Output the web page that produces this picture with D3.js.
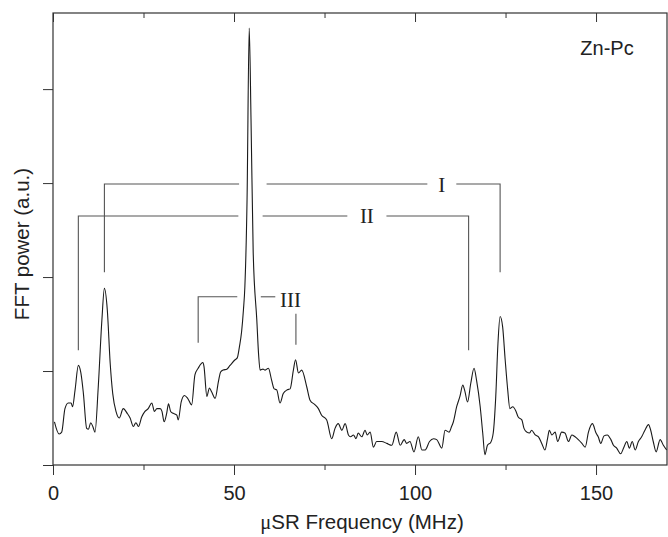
<!DOCTYPE html>
<html>
<head>
<meta charset="utf-8">
<script src="https://cdn.jsdelivr.net/npm/d3@7"></script>
<style>
  body { margin: 0; background: #fff; }
  svg text { font-family: "Liberation Sans", Arial, sans-serif; fill: #222; }
</style>
</head>
<body>
<div id="chart"></div>
<script>
// FFT spectrum (frequency in MHz, power in a.u.)
var freq = [0.4,1.7,2.4,3.3,4.2,5.0,5.4,6.1,7.0,7.7,8.4,9.3,9.8,10.4,11.0,11.6,12.5,13.5,14.2,15.0,
  15.8,16.5,17.4,18.3,19.4,20.5,21.3,22.2,22.9,23.6,24.5,25.4,26.3,27.3,28.0,28.7,29.6,30.1,30.7,31.4,
  31.9,32.5,33.2,34.2,34.6,35.4,36.3,37.2,38.3,39.2,40.1,41.4,41.7,42.5,43.2,43.8,44.8,45.7,46.3,47.0,
  48.0,48.9,50.3,50.9,51.5,52.1,52.6,53.0,53.6,54.2,54.7,55.3,56.3,56.8,57.2,58.0,58.6,59.5,60.4,61.1,
  61.8,62.7,63.6,64.7,65.5,66.4,67.0,67.8,68.7,70.1,71.0,72.4,73.3,74.2,75.6,77.0,77.9,78.8,79.8,80.7,
  81.6,82.2,83.0,83.7,84.3,85.3,86.2,86.8,87.6,88.5,89.4,90.8,92.2,93.6,94.8,95.9,97.0,97.7,98.6,99.7,
  100.9,101.9,102.8,104.0,105.1,106.0,107.4,108.3,109.4,110.1,110.6,111.5,112.4,113.2,113.8,114.5,115.4,116.3,117.0,118.0,
  118.7,119.3,120.0,120.9,121.6,122.3,122.9,123.5,124.2,124.9,125.6,126.2,127.0,127.9,128.5,129.5,130.1,130.9,131.6,132.2,
  133.2,134.1,135.0,135.9,136.6,137.1,137.8,138.7,139.4,140.5,141.4,142.4,143.3,144.2,145.1,146.1,147.0,147.9,149.0,150.0,
  150.6,151.3,152.2,153.1,154.1,154.8,155.7,156.8,157.7,158.5,159.2,160.0,160.8,161.7,162.6,163.5,164.5,165.1,165.8,166.6,
  167.7,168.6,169.5];
var power = [0.46,0.33,0.35,0.60,0.66,0.66,0.62,0.80,1.06,0.98,0.76,0.39,0.38,0.45,0.41,0.35,0.83,1.54,1.88,1.65,
  1.08,0.76,0.57,0.50,0.60,0.55,0.50,0.41,0.45,0.41,0.51,0.57,0.60,0.66,0.57,0.60,0.60,0.57,0.46,0.55,
  0.65,0.57,0.55,0.53,0.48,0.67,0.74,0.71,0.64,0.96,1.03,1.09,1.05,0.73,0.82,0.78,0.71,0.89,0.99,1.01,
  1.02,1.06,1.12,1.14,1.26,1.42,1.65,1.90,2.82,4.65,3.67,2.26,1.54,1.17,1.01,1.02,1.01,1.03,0.90,0.81,
  0.80,0.66,0.76,0.80,0.81,1.01,1.12,0.98,1.01,0.83,0.69,0.64,0.60,0.53,0.48,0.28,0.39,0.44,0.37,0.44,
  0.32,0.30,0.32,0.28,0.34,0.30,0.37,0.32,0.35,0.19,0.25,0.25,0.23,0.21,0.35,0.21,0.27,0.23,0.25,0.14,
  0.30,0.16,0.16,0.25,0.28,0.27,0.18,0.37,0.35,0.41,0.46,0.62,0.73,0.85,0.78,0.67,0.87,1.03,0.90,0.62,
  0.34,0.11,0.21,0.24,0.34,0.73,1.29,1.58,1.47,1.12,0.80,0.60,0.62,0.57,0.51,0.48,0.39,0.35,0.34,0.37,
  0.32,0.30,0.23,0.16,0.28,0.37,0.32,0.35,0.25,0.35,0.34,0.25,0.32,0.30,0.27,0.23,0.19,0.35,0.44,0.34,
  0.30,0.23,0.31,0.32,0.27,0.21,0.18,0.12,0.19,0.25,0.18,0.25,0.16,0.25,0.30,0.37,0.43,0.37,0.25,0.14,
  0.27,0.21,0.16];

var xMajorTicks = [0, 50, 100, 150];
var xMinorTicks = [25, 75, 125];
var yTicks = [0, 1, 2, 3, 4];

// peak assignment brackets: [label, left freq, right freq, bar level, left foot, right foot, label freq]
var bracketNames = ["I", "II", "III"];
var bracketLeft = [14.2, 7.0, 40.1];
var bracketRight = [123.5, 114.8, 67.1];
var bracketLevel = [2.99, 2.65, 1.79];
var bracketFoot = [2.05, 1.22, 1.30];
var bracketLabelAt = [107.4, 86.7, 65.6];

var width = 668, height = 537;
var margin = {top: 13, right: 1, bottom: 72, left: 53};

var svg = d3.select("#chart").append("svg")
    .attr("width", width).attr("height", height);

var x = d3.scaleLinear().domain([0, 169.6]).range([margin.left, width - margin.right]);
var y = d3.scaleLinear().domain([0, 4.81]).range([height - margin.bottom, margin.top]);

// frame
svg.append("rect")
    .attr("x", x(0)).attr("y", y(4.81))
    .attr("width", x(169.6) - x(0)).attr("height", y(0) - y(4.81))
    .attr("fill", "none").attr("stroke", "#333").attr("stroke-width", 1.2);

// bottom axis, major ticks with labels
var xAxis = svg.append("g").attr("transform", "translate(0," + y(0) + ")")
    .call(d3.axisBottom(x).tickValues(xMajorTicks).tickSize(10).tickPadding(6).tickFormat(d3.format("d")));
xAxis.select(".domain").remove();
xAxis.selectAll("text").attr("font-size", 20).attr("font-family", "Liberation Sans, Arial, sans-serif").attr("fill", "#222").attr("dy", "0.95em");
xAxis.selectAll("line").attr("stroke", "#333");

var xMinor = svg.append("g").attr("transform", "translate(0," + y(0) + ")")
    .call(d3.axisBottom(x).tickValues(xMinorTicks).tickSize(5).tickFormat(""));
xMinor.select(".domain").remove();
xMinor.selectAll("line").attr("stroke", "#333");

// top ticks pointing inward
var topMajor = svg.append("g").attr("transform", "translate(0," + y(4.81) + ")")
    .call(d3.axisBottom(x).tickValues(xMajorTicks).tickSize(9).tickFormat(""));
topMajor.select(".domain").remove();
topMajor.selectAll("line").attr("stroke", "#333");
var topMinor = svg.append("g").attr("transform", "translate(0," + y(4.81) + ")")
    .call(d3.axisBottom(x).tickValues(xMinorTicks).tickSize(5).tickFormat(""));
topMinor.select(".domain").remove();
topMinor.selectAll("line").attr("stroke", "#333");

// left axis, unlabelled ticks
var yAxis = svg.append("g").attr("transform", "translate(" + x(0) + ",0)")
    .call(d3.axisLeft(y).tickValues(yTicks).tickSize(10).tickFormat(""));
yAxis.select(".domain").remove();
yAxis.selectAll("line").attr("stroke", "#333");

// spectrum
var line = d3.line()
    .x(function(d, i) { return x(freq[i]); })
    .y(function(d) { return y(d); })
    .curve(d3.curveMonotoneX);

svg.append("path")
    .datum(power)
    .attr("d", line)
    .attr("fill", "none")
    .attr("stroke", "#1a1a1a")
    .attr("stroke-width", 1.1);

// brackets; the bar is broken where it crosses the main peak
var gapLo = [51.4, 51.2, 50.9], gapHi = [59.0, 57.9, 57.4];
var labelHalf = [4.0, 5.4, 4.2];
var br = svg.append("g").attr("fill", "none").attr("stroke", "#555").attr("stroke-width", 1.1);
bracketNames.forEach(function(name, i) {
  var lvl = y(bracketLevel[i]);
  // left arm
  br.append("path").attr("d", d3.line()([
    [x(gapLo[i]), lvl], [x(bracketLeft[i]), lvl], [x(bracketLeft[i]), y(bracketFoot[i])]]));
  if (name === "III") {
    br.append("path").attr("d", d3.line()([[x(gapHi[i]), lvl], [x(bracketLabelAt[i] - labelHalf[i]), lvl]]));
    br.append("path").attr("d", d3.line()([[x(bracketRight[i]), y(1.61)], [x(bracketRight[i]), y(1.28)]]));
  } else {
    br.append("path").attr("d", d3.line()([[x(gapHi[i]), lvl], [x(bracketLabelAt[i] - labelHalf[i]), lvl]]));
    br.append("path").attr("d", d3.line()([
      [x(bracketLabelAt[i] + labelHalf[i]), lvl], [x(bracketRight[i]), lvl], [x(bracketRight[i]), y(bracketFoot[i])]]));
  }
  svg.append("text")
    .attr("x", x(bracketLabelAt[i])).attr("y", lvl)
    .attr("dy", name === "III" ? 10 : 7.5)
    .attr("text-anchor", "middle")
    .style("font-family", "'Liberation Serif', 'Times New Roman', serif")
    .attr("font-size", 21)
    .text(name);
});

// sample name
svg.append("text").attr("x", 607).attr("y", 55)
    .attr("text-anchor", "middle").attr("font-size", 20).text("Zn-Pc");

// axis titles
var xt = svg.append("text").attr("x", 362).attr("y", 529)
    .attr("text-anchor", "middle").attr("font-size", 20.5);
xt.append("tspan").style("font-family", "'Liberation Serif', serif").text("μ");
xt.append("tspan").text("SR Frequency (MHz)");

svg.append("text")
    .attr("transform", "translate(29,244) rotate(-90)")
    .attr("text-anchor", "middle").attr("font-size", 20.5)
    .text("FFT power (a.u.)");
</script>
</body>
</html>
